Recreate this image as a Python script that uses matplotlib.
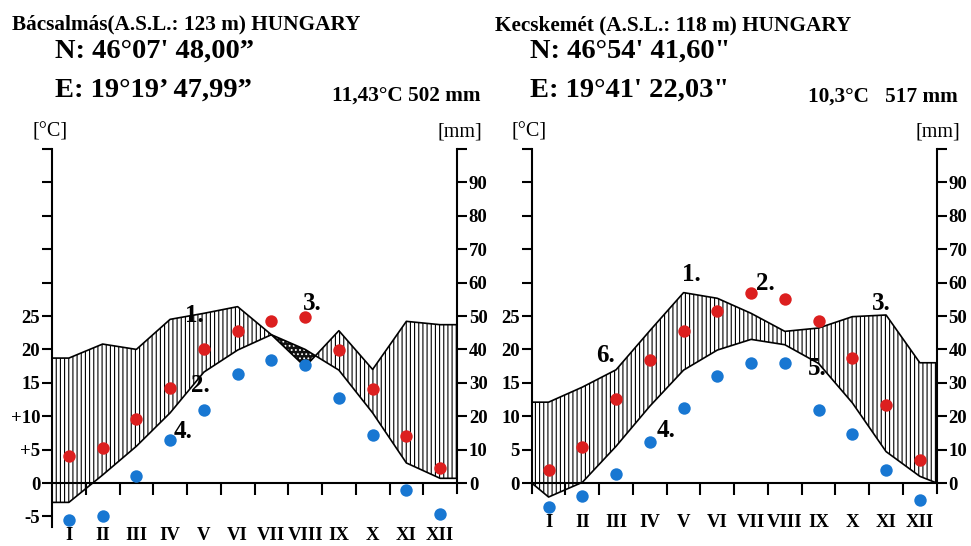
import matplotlib
matplotlib.use('Agg')
import matplotlib.pyplot as plt
import numpy as np

plt.rcParams['font.family'] = ['Liberation Serif', 'DejaVu Serif']
plt.rcParams['font.weight'] = 'bold'
plt.rcParams['hatch.linewidth'] = 0.8

months = ['I', 'II', 'III', 'IV', 'V', 'VI', 'VII', 'VIII', 'IX', 'X', 'XI', 'XII']

# Bácsalmás
b_temp = [-2.9, 1.2, 5.5, 10.5, 16.6, 19.9, 22.2, 20.0, 16.9, 10.5, 3.0, 0.7]
b_temp_edges = [-2.9, 0.7]
b_prec = [37.4, 41.6, 40.0, 49.0, 50.8, 52.8, 44.4, 34.8, 45.6, 34.0, 48.4, 47.4]
b_prec_edges = [37.4, 47.4]
b_red = [4.1, 5.2, 9.6, 14.2, 20.0, 22.7, 24.3, 24.8, 19.9, 14.0, 7.1, 2.2]
b_blue = [-5.6, -4.9, 1.0, 6.5, 11.0, 16.3, 18.4, 17.6, 12.7, 7.2, -1.1, -4.7]
b_yticks = [-5, 0, 5, 10, 15, 20, 25, 30, 35, 40, 45, 50]
b_yticklabels = ['-5', '0', '+5', '+10', '15', '20', '25', '', '', '', '', '']
b_notes = ['1.', '2.', '3.', '4.']
b_notes_x = [4.21, 4.39, 7.70, 3.88]
b_notes_y = [24.1, 13.6, 25.9, 6.7]

# Kecskemét
k_temp = [-2.1, 0.1, 5.5, 11.5, 16.9, 19.9, 21.5, 20.7, 17.9, 12.0, 4.7, 1.0]
k_temp_edges = [0.0, 0.0]
k_prec = [24.2, 28.7, 33.9, 45.6, 57.0, 55.3, 50.8, 45.4, 46.4, 49.8, 50.3, 36.0]
k_prec_edges = [24.2, 36.0]
k_red = [2.0, 5.4, 12.6, 18.4, 22.8, 25.7, 28.4, 27.6, 24.3, 18.7, 11.7, 3.4]
k_blue = [-3.6, -2.0, 1.3, 6.2, 11.2, 16.0, 17.9, 17.9, 10.9, 7.3, 2.0, -2.5]
k_yticks = [0, 5, 10, 15, 20, 25, 30, 35, 40, 45, 50]
k_yticklabels = ['0', '5', '10', '15', '20', '25', '', '', '', '', '']
k_notes = ['1.', '2.', '3.', '4.', '5.', '6.']
k_notes_x = [4.72, 6.91, 10.35, 3.98, 8.45, 2.20]
k_notes_y = [30.2, 28.9, 25.9, 6.9, 16.2, 18.1]

mm_ticks = [0, 10, 20, 30, 40, 50, 60, 70, 80, 90, 100]
mm_labels = ['0', '10', '20', '30', '40', '50', '60', '70', '80', '90', '']

RED = '#dc1f1f'
BLUE = '#1877d2'

W, H = 971, 546
fig = plt.figure(figsize=(W / 100, H / 100), dpi=100)

px_per_deg = 6.68
zero_px = 483
ylo, yhi = -8, 51


def make_axes(left_px, right_px):
    top_px = zero_px - yhi * px_per_deg
    bot_px = zero_px - ylo * px_per_deg
    return fig.add_axes([left_px / W, 1 - bot_px / H,
                         (right_px - left_px) / W, (bot_px - top_px) / H])


def panel(ax, temp, tedge, prec, pedge, red, blue, yticks, yticklabels,
          spine_lo, label_pad, notes, nx, ny):
    x = np.concatenate([[0.0], np.arange(12) + 0.5, [12.0]])
    t = np.array([tedge[0]] + temp + [tedge[1]])
    p = np.array([pedge[0]] + prec + [pedge[1]]) / 2.0
    ax.fill_between(x, t, p, where=p >= t, interpolate=True,
                    facecolor='white', edgecolor='black', hatch='||||',
                    linewidth=0, zorder=1)
    ax.fill_between(x, t, p, where=p < t, interpolate=True,
                    facecolor='#111111', edgecolor='white', hatch='....',
                    linewidth=0, zorder=1)
    ax.plot(x, t, color='black', lw=1.2, zorder=2)
    ax.plot(x, p, color='black', lw=1.2, zorder=2)
    xc = np.arange(12) + 0.5
    ax.scatter(xc, red, s=80, color=RED, zorder=4, linewidths=0, clip_on=False)
    ax.scatter(xc, blue, s=80, color=BLUE, zorder=4, linewidths=0, clip_on=False)

    ax.set_xlim(0, 12)
    ax.set_ylim(ylo, yhi)
    ax.patch.set_alpha(0)
    for s in ['top', 'right']:
        ax.spines[s].set_visible(False)
    ax.spines['bottom'].set_position(('data', 0))
    ax.spines['left'].set_bounds(spine_lo, 50)
    for s in ['left', 'bottom']:
        ax.spines[s].set_linewidth(1.5)
        ax.spines[s].set_zorder(3)

    ax.set_yticks(yticks)
    ax.set_yticklabels(yticklabels)
    ax.tick_params(axis='y', direction='out', length=7, width=1.5,
                   labelsize=13.5, pad=1.5)
    ax.set_xticks(xc)
    ax.set_xticklabels(months)
    ax.set_xticks(np.arange(1, 12), minor=True)
    ax.tick_params(axis='x', which='major', length=0, labelsize=13.5,
                   pad=label_pad)
    ax.tick_params(axis='x', which='minor', direction='out', length=8.5,
                   width=1.5)

    ax2 = ax.twinx()
    ax2.set_ylim(2 * ylo, 2 * yhi)
    for s in ['top', 'left', 'bottom']:
        ax2.spines[s].set_visible(False)
    ax2.spines['right'].set_bounds(-3, 100)
    ax2.spines['right'].set_linewidth(1.5)
    ax2.set_yticks(mm_ticks)
    ax2.set_yticklabels(mm_labels)
    ax2.tick_params(axis='y', direction='out', length=7, width=1.5,
                    labelsize=13.5, pad=1.5)

    for lab, xx, yy in zip(notes, nx, ny):
        ax.text(xx, yy, lab, ha='center', va='baseline', fontsize=18,
                fontweight='bold', zorder=5)


axL = make_axes(52, 457)
panel(axL, b_temp, b_temp_edges, b_prec, b_prec_edges, b_red, b_blue,
      b_yticks, b_yticklabels, -6.6, 31.5, b_notes, b_notes_x, b_notes_y)

axR = make_axes(531.7, 936.7)
panel(axR, k_temp, k_temp_edges, k_prec, k_prec_edges, k_red, k_blue,
      k_yticks, k_yticklabels, -1.5, 22, k_notes, k_notes_x, k_notes_y)


def ftext(x, y, s, size, ha='left', weight='bold'):
    fig.text(x / W, 1 - y / H, s, ha=ha, va='baseline', fontsize=size,
             fontweight=weight)


ftext(12, 29, 'Bácsalmás(A.S.L.: 123 m) HUNGARY', 15.3)
ftext(55, 58, 'N: 46°07\' 48,00”', 20.5)
ftext(55, 97, 'E: 19°19’ 47,99”', 20.5)
ftext(480, 101, '11,43°C 502 mm', 15.3, ha='right')
ftext(50, 137, '[°C]', 14.5, ha='center', weight='normal')
ftext(459.5, 137, '[mm]', 14.5, ha='center', weight='normal')

ftext(495, 30, 'Kecskemét (A.S.L.: 118 m) HUNGARY', 15.3)
ftext(530, 58, 'N: 46°54\' 41,60"', 20.5)
ftext(530, 97, 'E: 19°41\' 22,03"', 20.5)
ftext(958, 102, '10,3°C   517 mm', 15.3, ha='right')
ftext(529, 137, '[°C]', 14.5, ha='center', weight='normal')
ftext(937.5, 137, '[mm]', 14.5, ha='center', weight='normal')

fig.savefig('out.png', dpi=100)
